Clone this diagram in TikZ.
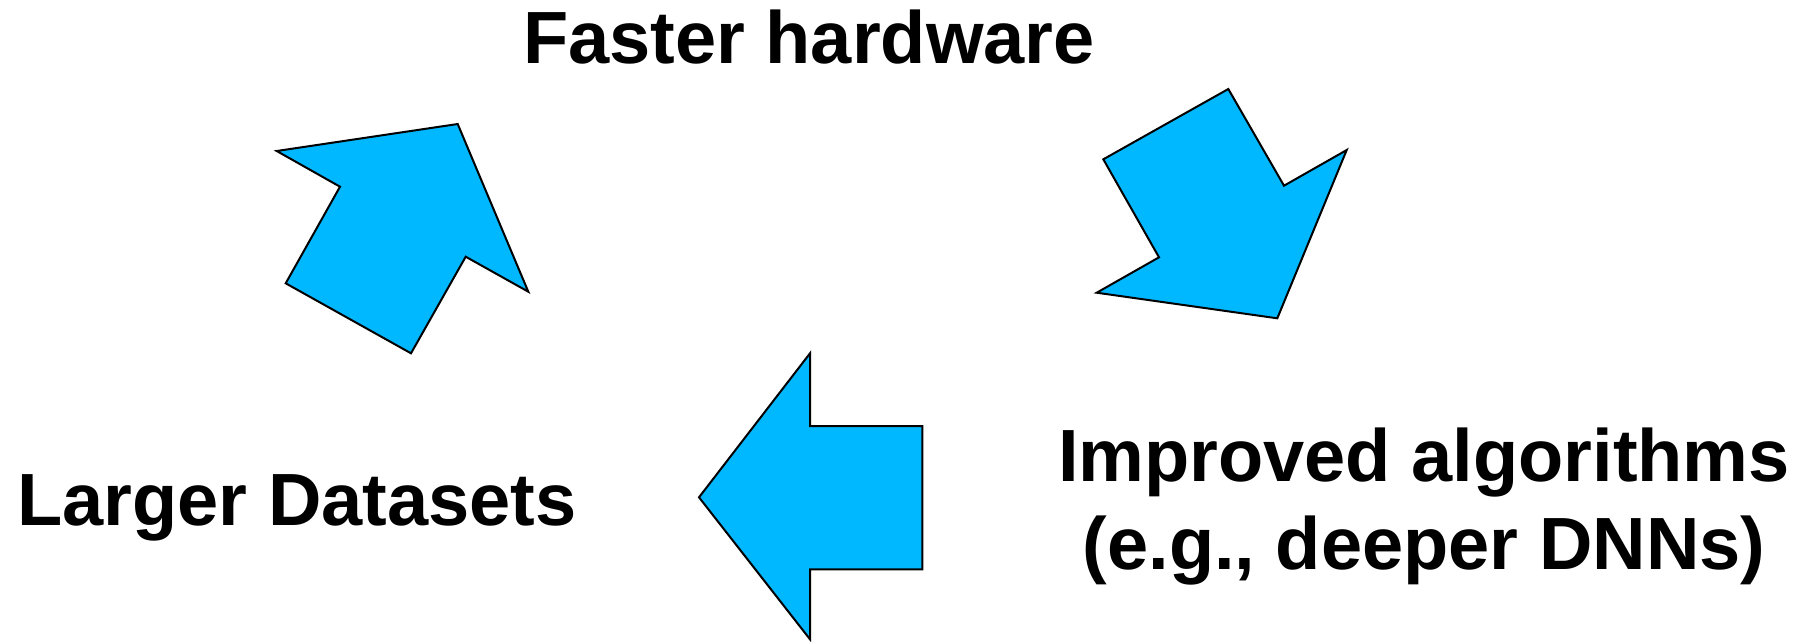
\documentclass[tikz,border=0pt]{standalone}
\usepackage{fontspec}
\setmainfont{Liberation Sans}
\definecolor{arrowblue}{RGB}{0,184,255}
\tikzset{
  bigarrow/.style={draw=black, fill=arrowblue, line width=2pt, line join=miter},
  lbl/.style={font=\fontsize{74}{88}\selectfont\bfseries, inner sep=0pt, anchor=base}
}
\begin{document}
\begin{tikzpicture}[x=1pt,y=-1pt]
\useasboundingbox (0,0) rectangle (1806,641);
% text labels
\node[lbl] (hw) at (809,63.5) {Faster hardware};
\node[lbl] (data) at (297,525.5) {Larger Datasets};
\node[lbl] (alg1) at (1424,481) {Improved algorithms};
\node[lbl] (alg2) at (1424,569) {(e.g., deeper DNNs)};
% arrow 1 (up-right)
\draw[bigarrow] (276.7,151) -- (457.7,124) -- (528.3,291.7) -- (465.7,256.7)
  -- (411,353.3) -- (285.7,283.3) -- (340,186.7) -- cycle;
% arrow 2 (down-right)
\draw[bigarrow] (1103.3,159.3) -- (1228.3,89) -- (1284,185.7) -- (1346.7,150)
  -- (1277.3,318.3) -- (1096.7,292.7) -- (1159,257.3) -- cycle;
% arrow 3 (left)
\draw[bigarrow] (810,353.3) -- (810,426) -- (922.3,426) -- (922.3,569.3)
  -- (810,569.3) -- (810,639.3) -- (699,497.3) -- cycle;
\end{tikzpicture}
\end{document}
